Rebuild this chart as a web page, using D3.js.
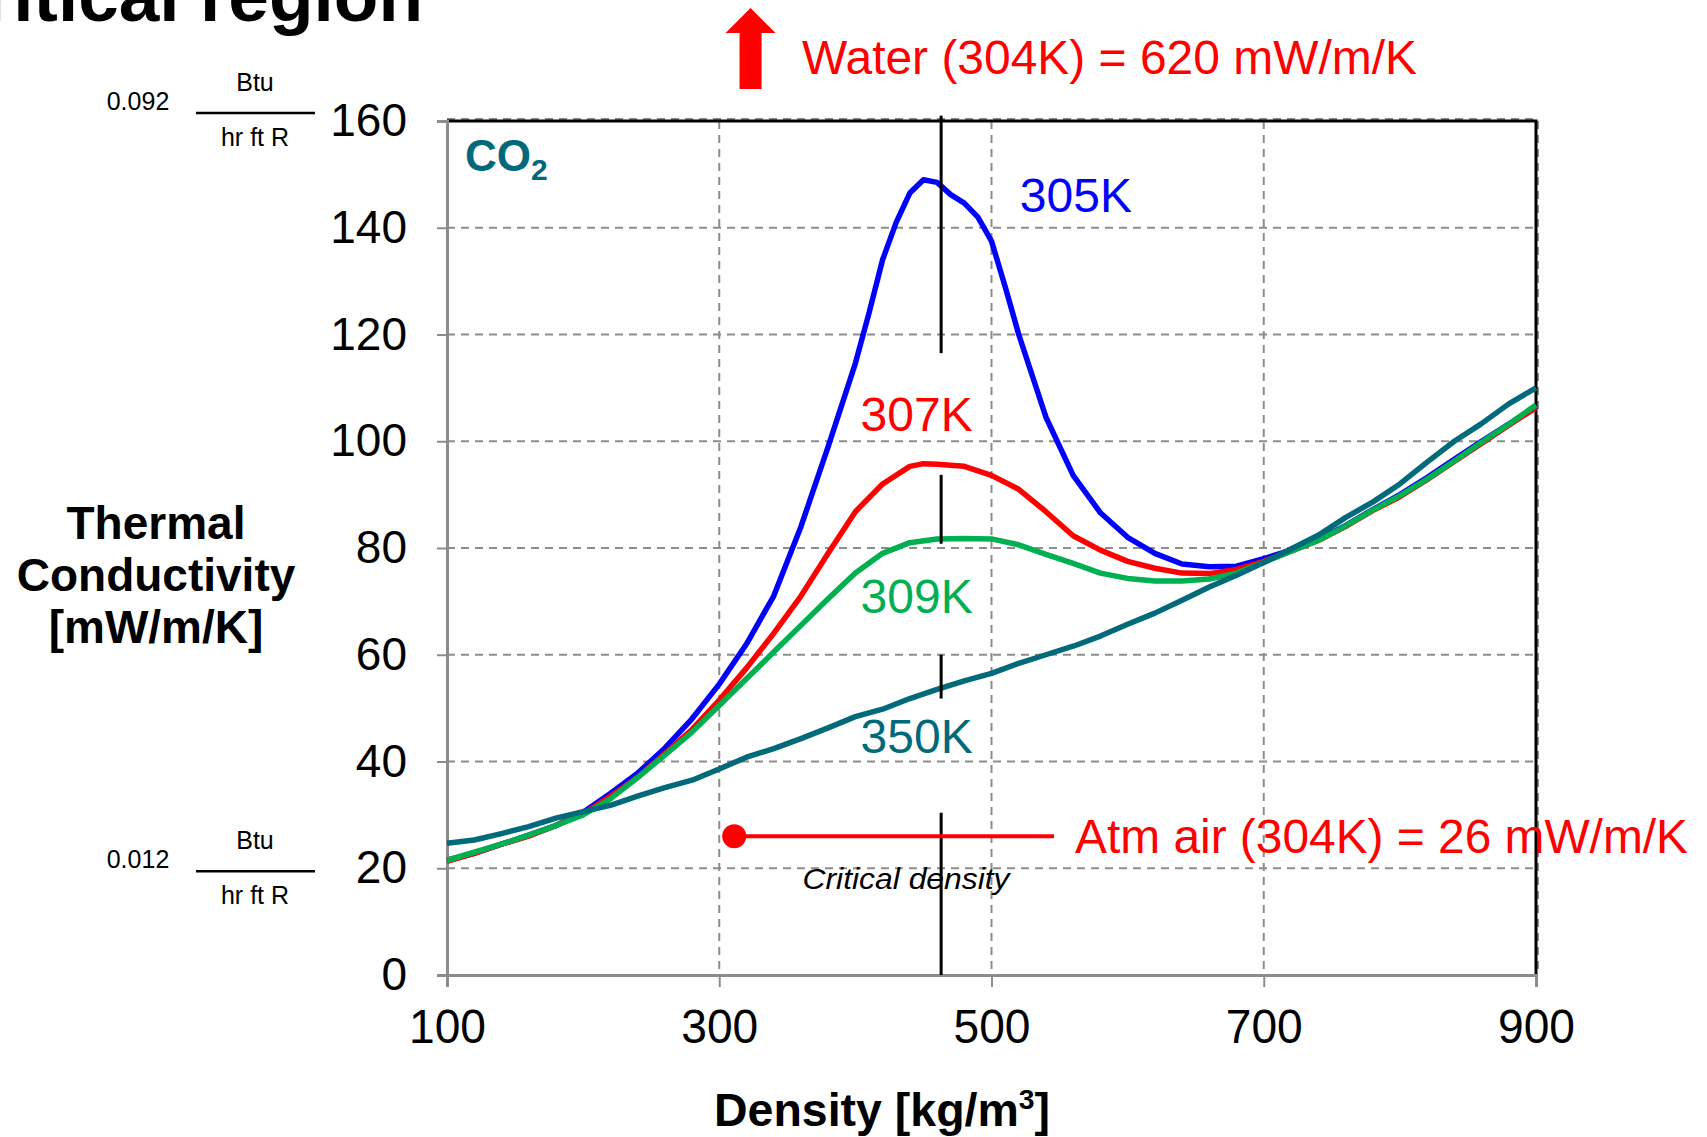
<!DOCTYPE html>
<html>
<head>
<meta charset="utf-8">
<script src="https://cdn.jsdelivr.net/npm/d3@7/dist/d3.min.js"></script>
<style>
  html, body { margin: 0; padding: 0; background: #fff; }
  svg { display: block; font-family: "Liberation Sans", Arial, sans-serif; }
</style>
</head>
<body>
<svg id="chart" width="1707" height="1137"></svg>
<script>
// Density grid for each isotherm [kg/m3]
const dens305 = [100,120,140,160,180,200,220,240,260,280,300,320,340,360,380,400,410,420,430,440,450,460,470,480,490,500,510,520,540,560,580,600,620,640,660,680,700,720,740,760,780,800,820,840,860,880,900];
const dens307 = [100,120,140,160,180,200,220,240,260,280,300,320,340,360,380,400,420,440,450,460,480,500,520,540,560,580,600,620,640,660,680,700,720,740,760,780,800,820,840,860,880,900];
const densStep = d3.range(100, 901, 20);

// Thermal conductivity of CO2 [mW/m/K]
const k305 = [21.5,22.8,24.5,26.2,28,30.5,34,37.8,42.5,48,54.5,62,71,84,99,114.6,124,134,141,146.5,149,148.5,146.2,144.6,142,137.5,129,120,104.5,93.6,86.6,82,79,77,76.5,76.6,78,79.6,81.6,84.2,87.2,90,93.2,96.6,100,103.2,106.5];
const k307 = [21.3,22.8,24.5,26,28,30.2,33.5,37,41.5,46,51.5,57.5,64,71,79,86.8,92,95.3,95.8,95.7,95.3,93.6,91,86.8,82.3,79.6,77.5,76.2,75.3,75.2,76,77.5,79.4,81.4,84,87,89.6,92.8,96.2,99.6,103,106.3];
const k309 = [21.5,23,24.5,26.2,28,30,33,37,41.2,45.5,50.5,55.5,60.5,65.5,70.5,75.3,79,81,81.7,81.8,81.7,80.6,78.8,77.1,75.3,74.3,73.8,73.8,74.2,75.3,77.3,79.4,81.4,84.1,87.1,89.8,92.9,96.3,99.8,103.2,106.8];
const k350 = [24.7,25.3,26.5,27.8,29.4,30.6,31.8,33.5,35.1,36.5,38.6,40.8,42.4,44.3,46.3,48.4,49.8,51.8,53.5,55.1,56.5,58.4,60,61.6,63.5,65.7,67.8,70.2,72.7,74.9,77.3,79.8,82.4,85.7,88.6,92,96.1,100,103.3,107,110];

const xTicks = [100, 300, 500, 700, 900];
const yTicks = [0, 20, 40, 60, 80, 100, 120, 140, 160];

// Annotations
const criticalDensity = 463;
const criticalSegments = [[161, 116.5], [93.7, 80.8], [60, 51.8], [30.4, 0]];
const airDensity = 311, airK = 26;
const waterArrowDensity = 323;

const series = [
  { name: "305K", x: dens305, y: k305, color: "#0000ff", lx: 562, ly: 143 },
  { name: "307K", x: dens307, y: k307, color: "#ff0000", lx: 445, ly: 102 },
  { name: "309K", x: densStep, y: k309, color: "#00b050", lx: 445, ly: 67.8 },
  { name: "350K", x: densStep, y: k350, color: "#006a7a", lx: 445, ly: 41.6 }
];

const svg = d3.select("#chart");
const L = 447, R = 1536, T = 121, B = 975;
const x = d3.scaleLinear().domain([100, 900]).range([L, R]);
const y = d3.scaleLinear().domain([0, 160]).range([B, T]);
const grey = "#8c8c8c";

// Slide heading, running off the top edge
svg.append("text").attr("x", 423).attr("y", 21).attr("text-anchor", "end")
  .attr("font-size", 73).attr("font-weight", "bold").attr("fill", "#000")
  .text("critical region");

// Gridlines
const grid = svg.append("g");
grid.selectAll("line.h").data(yTicks.filter(v => v > 0)).join("line")
  .attr("x1", L).attr("x2", R).attr("y1", d => y(d) - (d === 160 ? 2 : 0)).attr("y2", d => y(d) - (d === 160 ? 2 : 0))
  .attr("stroke", grey).attr("stroke-width", 2).attr("stroke-dasharray", "8,6");
grid.selectAll("line.v").data(xTicks.filter(v => v > 100)).join("line")
  .attr("y1", T).attr("y2", B).attr("x1", d => x(d) + (d === 900 ? 2 : 0)).attr("x2", d => x(d) + (d === 900 ? 2 : 0))
  .attr("stroke", grey).attr("stroke-width", 2).attr("stroke-dasharray", "8,6");

// Plot frame: black on top and right
svg.append("path").attr("d", `M${L},${T} H${R} V${B}`)
  .attr("fill", "none").attr("stroke", "#000").attr("stroke-width", 3);

// Axes
const yAxis = d3.axisLeft(y).tickValues(yTicks).tickSize(10).tickPadding(30);
const gy = svg.append("g").attr("transform", `translate(${L},0)`).call(yAxis);
gy.select(".domain").attr("stroke", grey).attr("stroke-width", 3);
gy.selectAll(".tick line").attr("stroke", grey).attr("stroke-width", 2);
gy.selectAll(".tick text").attr("font-size", 46).attr("fill", "#000")
  .attr("font-family", "Liberation Sans, Arial, sans-serif");

const xAxis = d3.axisBottom(x).tickValues(xTicks).tickSize(12).tickPadding(22);
const gx = svg.append("g").attr("transform", `translate(0,${B})`).call(xAxis);
gx.select(".domain").attr("stroke", grey).attr("stroke-width", 3);
gx.selectAll(".tick line").attr("stroke", grey).attr("stroke-width", 2);
gx.selectAll(".tick text").attr("font-size", 48).attr("fill", "#000")
  .attr("font-family", "Liberation Sans, Arial, sans-serif")
  .attr("textLength", 77).attr("lengthAdjust", "spacingAndGlyphs");

// Isotherm curves
const line = d3.line().x(d => x(d[0])).y(d => y(d[1]));
series.forEach(s => {
  svg.append("path")
    .datum(s.x.map((v, i) => [v, s.y[i]]))
    .attr("d", line)
    .attr("fill", "none").attr("stroke", s.color).attr("stroke-width", 5.5)
    .attr("stroke-linejoin", "round");
});

// Critical density marker
svg.append("g").selectAll("line").data(criticalSegments).join("line")
  .attr("x1", x(criticalDensity)).attr("x2", x(criticalDensity))
  .attr("y1", d => y(d[0])).attr("y2", d => y(d[1]))
  .attr("stroke", "#000").attr("stroke-width", 3);
svg.append("text").attr("x", 906).attr("y", 889).attr("text-anchor", "middle")
  .attr("font-size", 30).attr("font-style", "italic").attr("fill", "#000")
  .attr("textLength", 207).attr("lengthAdjust", "spacingAndGlyphs")
  .text("Critical density");

// Isotherm labels
svg.append("g").selectAll("text").data(series).join("text")
  .attr("x", d => x(d.lx)).attr("y", d => y(d.ly)).attr("text-anchor", "middle")
  .attr("font-size", 48).attr("fill", d => d.color).text(d => d.name);

// CO2 label
const co2 = svg.append("text").attr("x", 465).attr("y", 171)
  .attr("font-size", 44).attr("font-weight", "bold").attr("fill", "#006a7a");
co2.append("tspan").text("CO");
co2.append("tspan").attr("font-size", 30).attr("dy", 9).text("2");

// Atmospheric air reference
svg.append("line").attr("x1", x(airDensity)).attr("x2", 1054)
  .attr("y1", y(airK)).attr("y2", y(airK))
  .attr("stroke", "#ff0000").attr("stroke-width", 4);
svg.append("circle").attr("cx", x(airDensity)).attr("cy", y(airK)).attr("r", 12)
  .attr("fill", "#ff0000");
svg.append("text").attr("x", 1075).attr("y", y(airK) + 17)
  .attr("font-size", 48).attr("fill", "#ff0000")
  .attr("textLength", 613).attr("lengthAdjust", "spacingAndGlyphs")
  .text("Atm air (304K) = 26 mW/m/K");

// Water reference: off-scale arrow
const ax = x(waterArrowDensity);
svg.append("path")
  .attr("d", `M${ax},8 L${ax + 25},33 L${ax + 11},33 L${ax + 11},89 L${ax - 11},89 L${ax - 11},33 L${ax - 25},33 Z`)
  .attr("fill", "#ff0000");
svg.append("text").attr("x", 802).attr("y", 74)
  .attr("font-size", 48).attr("fill", "#ff0000")
  .attr("textLength", 615).attr("lengthAdjust", "spacingAndGlyphs")
  .text("Water (304K) = 620 mW/m/K");

// Axis titles
const yt = svg.append("text").attr("text-anchor", "middle").attr("font-size", 46)
  .attr("font-weight", "bold").attr("fill", "#000");
["Thermal", "Conductivity", "[mW/m/K]"].forEach((t, i) => {
  yt.append("tspan").attr("x", 156).attr("y", 539 + i * 52).text(t);
});
const xt = svg.append("text").attr("x", 882).attr("y", 1126).attr("text-anchor", "middle")
  .attr("font-size", 46).attr("font-weight", "bold").attr("fill", "#000")
  .attr("textLength", 336).attr("lengthAdjust", "spacingAndGlyphs");
xt.append("tspan").text("Density [kg/m");
xt.append("tspan").attr("font-size", 28).attr("dy", -17).text("3");
xt.append("tspan").attr("dy", 17).text("]");

// Imperial unit equivalents
const btu = [{ v: "0.092", k: 160, dy: -8 }, { v: "0.012", k: 20, dy: 3 }];
btu.forEach(b => {
  const cy = y(b.k) + b.dy;
  svg.append("text").attr("x", 138).attr("y", cy - 3).attr("text-anchor", "middle")
    .attr("font-size", 25).attr("fill", "#000").text(b.v);
  svg.append("text").attr("x", 255).attr("y", cy - 22).attr("text-anchor", "middle")
    .attr("font-size", 25).attr("fill", "#000").text("Btu");
  svg.append("line").attr("x1", 196).attr("x2", 315).attr("y1", cy).attr("y2", cy)
    .attr("stroke", "#000").attr("stroke-width", 2.5);
  svg.append("text").attr("x", 255).attr("y", cy + 33).attr("text-anchor", "middle")
    .attr("font-size", 25).attr("fill", "#000").text("hr ft R");
});
</script>
</body>
</html>
